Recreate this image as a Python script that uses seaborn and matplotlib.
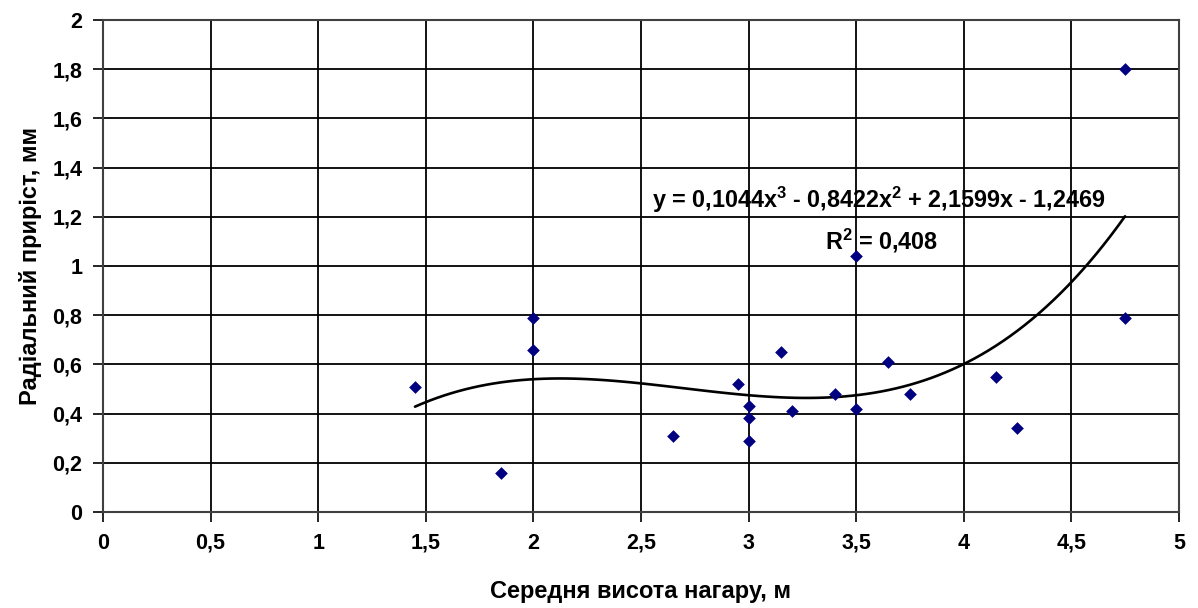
import numpy as np
import pandas as pd
import matplotlib
matplotlib.use("Agg")
import matplotlib.pyplot as plt
import seaborn as sns

# data
height = [1.45, 1.85, 2.0, 2.0, 2.65, 2.95, 3.0, 3.0, 3.0, 3.15, 3.2,
          3.4, 3.5, 3.5, 3.65, 3.75, 4.15, 4.25, 4.75, 4.75]
growth = [0.51, 0.16, 0.79, 0.66, 0.31, 0.52, 0.43, 0.38, 0.29, 0.65, 0.41,
          0.48, 1.04, 0.42, 0.61, 0.48, 0.55, 0.34, 0.79, 1.80]
xticks = [0, 0.5, 1, 1.5, 2, 2.5, 3, 3.5, 4, 4.5, 5]
yticks = [0, 0.2, 0.4, 0.6, 0.8, 1, 1.2, 1.4, 1.6, 1.8, 2]
eq_text = "y = 0,1044x$^3$ - 0,8422x$^2$ + 2,1599x - 1,2469"
r2_text = "R$^2$ = 0,408"

data = pd.DataFrame({"h": height, "g": growth})

sns.set_style("white")
plt.rcParams['font.family'] = ['Liberation Sans', 'DejaVu Sans']
plt.rcParams['font.weight'] = 'bold'
plt.rcParams['text.color'] = 'black'
plt.rcParams['axes.labelcolor'] = 'black'
plt.rcParams['xtick.color'] = 'black'
plt.rcParams['ytick.color'] = 'black'
plt.rcParams['mathtext.fontset'] = 'custom'
plt.rcParams['mathtext.rm'] = 'Liberation Sans:bold'
plt.rcParams['mathtext.bf'] = 'Liberation Sans:bold'
plt.rcParams['mathtext.default'] = 'bf'

fig = plt.figure(figsize=(11.98, 6.08), dpi=100)
ax = fig.add_axes([0.086, 0.158, 0.898, 0.809])

# polynomial trend line (3rd order) fitted from the points
sns.regplot(data=data, x="h", y="g", order=3, ci=None, scatter=False, truncate=True,
            line_kws={"color": "black", "lw": 1.9}, ax=ax)
sns.scatterplot(data=data, x="h", y="g", marker="D", s=42, color="#000080",
                edgecolor="#000080", linewidth=0, ax=ax, zorder=5)

ax.set_xlim(0, 5)
ax.set_ylim(0, 2)
ax.set_xticks(xticks)
ax.set_yticks(yticks)
ax.set_xticklabels([("%g" % t).replace(".", ",") for t in xticks], fontsize=15.5, fontweight='bold')
ax.set_yticklabels([("%g" % t).replace(".", ",") for t in yticks], fontsize=15.5, fontweight='bold')
ax.grid(True, color="black", lw=1.3)
ax.set_axisbelow(True)
for s in ax.spines.values():
    s.set_color("#404040")
    s.set_linewidth(1.5)
ax.tick_params(axis="both", direction="out", length=7, width=1.2, color="black",
               left=True, bottom=True, pad=8)

ax.set_xlabel("Середня висота нагару, м", fontsize=17, fontweight='bold', labelpad=19)
ax.set_ylabel("Радіальний приріст, мм", fontsize=17, fontweight='bold', labelpad=7)

ax.text(0.721, 0.634, eq_text, transform=ax.transAxes, fontsize=16.8,
        ha="center", va="center")
ax.text(0.724, 0.551, r2_text, transform=ax.transAxes, fontsize=16.8,
        ha="center", va="center")

fig.savefig("out.png", dpi=100)
